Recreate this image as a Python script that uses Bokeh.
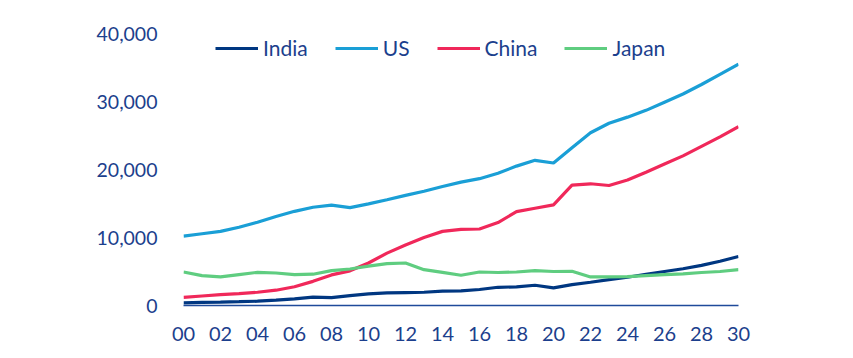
from bokeh.plotting import figure
from bokeh.models import (ColumnDataSource, Legend, LegendItem, FixedTicker,
                          NumeralTickFormatter, Range1d)
from bokeh.embed import file_html
from bokeh.resources import INLINE

years = list(range(0, 31))
tick_years = list(range(0, 31, 2))
tick_labels = ["%02d" % t for t in tick_years]

india = [400, 450, 500, 560, 630, 780, 980, 1220, 1170, 1460, 1720,
         1850, 1900, 1950, 2100, 2150, 2350, 2680, 2740, 2980, 2600,
         3080, 3420, 3800, 4150, 4600, 5000, 5400, 5900, 6500, 7200]
us = [10200, 10550, 10900, 11500, 12250, 13100, 13850, 14450, 14750, 14400, 14950,
      15550, 16200, 16800, 17500, 18150, 18650, 19450, 20500, 21350, 20950,
      23200, 25400, 26800, 27700, 28700, 29900, 31100, 32500, 34000, 35500]
china = [1200, 1400, 1600, 1750, 1950, 2250, 2750, 3550, 4500, 5100, 6250,
         7700, 8900, 10000, 10900, 11200, 11250, 12200, 13800, 14300, 14800,
         17700, 17900, 17650, 18450, 19600, 20800, 22000, 23400, 24800, 26300]
japan = [4930, 4400, 4200, 4550, 4880, 4780, 4550, 4600, 5130, 5370, 5800,
         6150, 6250, 5270, 4880, 4450, 4930, 4850, 4930, 5130, 5000,
         5030, 4200, 4200, 4250, 4400, 4550, 4650, 4850, 5000, 5270]

series = [("India", india, "#003781"),
          ("US", us, "#1a9fd6"),
          ("China", china, "#f0285a"),
          ("Japan", japan, "#5fcd80")]

TEXT = "#1c3f8d"
FONT = "Lato"

p = figure(width=845, height=343, output_backend="svg", toolbar_location=None,
           x_range=Range1d(0, 30), y_range=Range1d(0, 40000),
           min_border_left=183, min_border_right=107, min_border_top=33,
           min_border_bottom=0, outline_line_color=None)
p.grid.visible = False

items = []
for name, vals, col in series:
    src = ColumnDataSource(dict(x=years, y=vals))
    r = p.line("x", "y", source=src, line_color=col, line_width=3.2)
    items.append(LegendItem(label=name, renderers=[r]))

# y axis
p.yaxis.ticker = FixedTicker(ticks=[0, 10000, 20000, 30000, 40000])
p.yaxis.formatter = NumeralTickFormatter(format="0,0")
p.yaxis.axis_line_color = None
p.yaxis.major_tick_line_color = None
p.yaxis.minor_tick_line_color = None
p.yaxis.major_tick_out = 0
p.yaxis.major_label_standoff = 26
p.yaxis.major_label_text_font = FONT
p.yaxis.major_label_text_font_size = "19.5px"
p.yaxis.major_label_text_color = TEXT

# x axis
p.xaxis.ticker = FixedTicker(ticks=tick_years)
p.xaxis.major_label_overrides = {t: l for t, l in zip(tick_years, tick_labels)}
p.xaxis.axis_line_color = "#1f4a9a"
p.xaxis.axis_line_width = 1.5
p.xaxis.major_tick_line_color = None
p.xaxis.minor_tick_line_color = None
p.xaxis.major_tick_out = 0
p.xaxis.major_label_standoff = 21
p.xaxis.major_label_text_font = FONT
p.xaxis.major_label_text_font_size = "20px"
p.xaxis.major_label_text_color = TEXT

legend = Legend(items=items, orientation="horizontal", location=(32, 245),
                border_line_color=None, background_fill_alpha=0,
                padding=0, margin=0, spacing=27, glyph_width=43,
                label_standoff=5, label_text_font=FONT,
                label_text_font_size="21px", label_text_color=TEXT)
p.add_layout(legend)

open("out.html", "w").write(file_html(p, INLINE))
